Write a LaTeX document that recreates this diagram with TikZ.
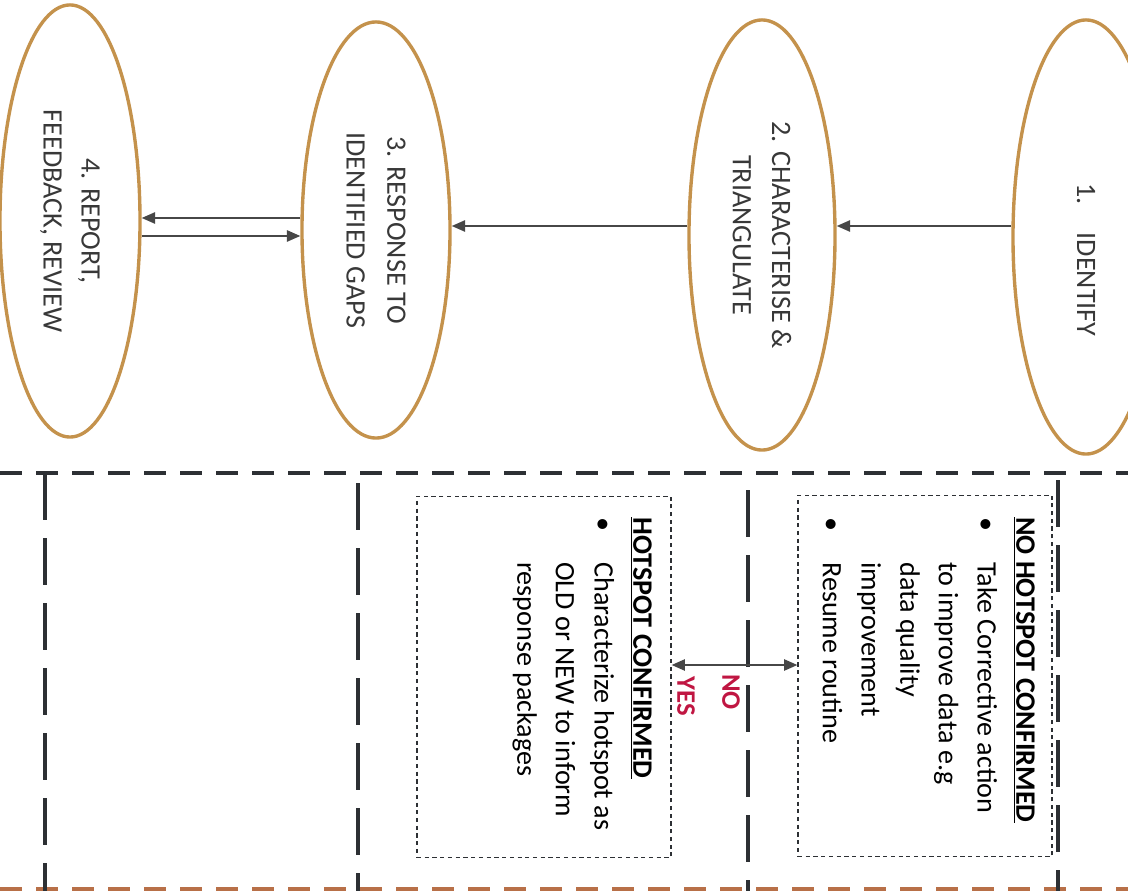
\documentclass[tikz,border=0pt]{standalone}
\usepackage{fontspec}
\setmainfont{Carlito}
\usepackage{xcolor}
\usetikzlibrary{shapes.geometric,arrows.meta,positioning}

\definecolor{gold}{RGB}{196,146,76}
\definecolor{ink}{RGB}{45,48,52}
\definecolor{crimson}{RGB}{192,22,66}
\definecolor{rust}{RGB}{184,112,72}

\tikzset{
  stage/.style={ellipse, draw=gold, line width=2.4pt, rotate=-90, align=center,
    text=black!78, font=\fontsize{20}{27}\selectfont},
  flow/.style={draw=black!72, line width=1.3pt, -{Triangle[length=9.5pt,width=8pt]}},
  lane/.style={draw=ink, line width=3.4pt, dash pattern=on 11.75mm off 4.5mm},
  rail/.style={draw=ink, line width=3.4pt, dash pattern=on 5.5mm off 3.5mm},
  notebox/.style={draw=ink, line width=0.8pt, dash pattern=on 3pt off 2.5pt,
    inner sep=0pt, minimum width=6.35cm, minimum height=9.03cm},
  notetext/.style={rotate=-90, anchor=north west, align=left, inner sep=0pt,
    font=\fontsize{20}{27.5}\selectfont},
  answer/.style={rotate=-90, text=crimson, inner sep=0pt,
    font=\bfseries\fontsize{19}{19}\selectfont}
}

\begin{document}
\begin{tikzpicture}[x=0.025cm, y=-0.025cm]
  \useasboundingbox (0,0) rectangle (1128,891);

  \node[stage, minimum width=10.85cm, minimum height=3.65cm] (s1) at (1086,237)
    {\hspace*{1.15cm}1.\hspace{1em}IDENTIFY};
  \node[stage, minimum width=10.75cm, minimum height=3.65cm,
    font=\fontsize{20}{28}\selectfont] (s2) at (762,235)
    {2. CHARACTERISE \&\\TRIANGULATE};
  \node[stage, minimum width=10.4cm, minimum height=3.7cm,
    font=\fontsize{20}{29}\selectfont] (s3) at (376,230)
    {3. RESPONSE TO\\IDENTIFIED GAPS};
  \node[stage, minimum width=10.8cm, minimum height=3.5cm] (s4) at (70,221)
    {4. REPORT,\\FEEDBACK, REVIEW};

  \draw[flow] (s1.south |- 0,226) -- (s2.north |- 0,226);
  \draw[flow] (s2.south |- 0,226) -- (s3.north |- 0,226);
  \draw[flow] (s3.south |- 0,218) -- (s4.north |- 0,218);
  \draw[flow] (s4.north |- 0,236) -- (s3.south |- 0,236);

  \draw[rail] (0,473) -- (1128,473);
  \draw[rail, draw=rust] (0,889) -- (1128,889);
  \draw[lane] (45,473) -- (45,891);
  \draw[lane] (358,483) -- (358,891);
  \draw[lane] (748,490) -- (748,891);
  \draw[lane] (1058,480) -- (1058,891);

  \node[notebox] (nobox) at (925,676) {};
  \node[notebox] (yesbox) at (544,677) {};

  \node[notetext] (notext) at (1035,517)
    {\underline{\textbf{NO HOTSPOT CONFIRMED}}\\
     \makebox[32pt][l]{\textbullet}Take Corrective action\\
     \hspace*{32pt}to improve data e.g\\
     \hspace*{32pt}data quality\\
     \hspace*{32pt}improvement\\
     \makebox[32pt][l]{\textbullet}Resume routine};
  \node[notetext] (yestext) at (652,517)
    {\underline{\textbf{HOTSPOT CONFIRMED}}\\
     \makebox[32pt][l]{\textbullet}Characterize hotspot as\\
     \hspace*{32pt}OLD or NEW to inform\\
     \hspace*{32pt}response packages};

  \coordinate (fork) at (748,665);
  \draw[flow] (fork) -- (fork -| nobox.west);
  \draw[flow] (fork) -- (fork -| yesbox.east);
  \node[answer] (no) at (731,692) {NO};
  \node[answer] (yes) at (686,696) {YES};
\end{tikzpicture}
\end{document}
